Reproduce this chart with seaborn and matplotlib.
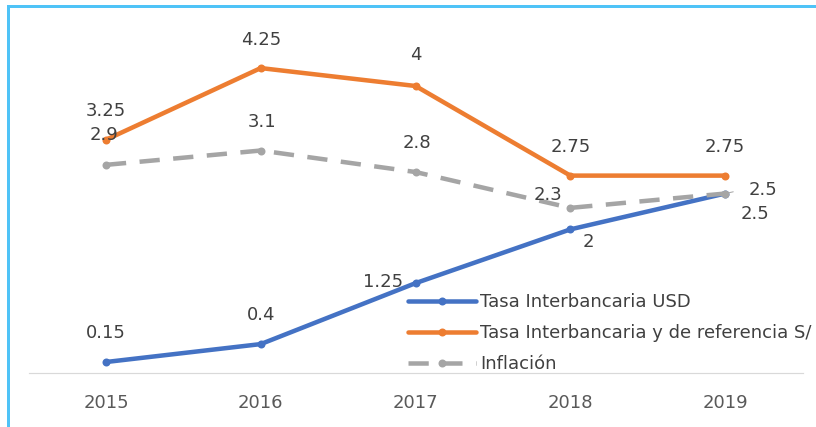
import pandas as pd
import matplotlib.pyplot as plt
import seaborn as sns
from matplotlib.patches import Rectangle

years = ["2015", "2016", "2017", "2018", "2019"]
usd = [0.15, 0.4, 1.25, 2, 2.5]
soles = [3.25, 4.25, 4, 2.75, 2.75]
inflacion = [2.9, 3.1, 2.8, 2.3, 2.5]

names = ["Tasa Interbancaria USD", "Tasa Interbancaria y de referencia S/", "Inflación"]
colors = ["#4472C4", "#ED7D31", "#A5A5A5"]

df = pd.DataFrame({"year": years * 3,
                   "value": usd + soles + inflacion,
                   "serie": [n for n in names for _ in years]})

sns.set_style("white")
plt.rcParams["font.family"] = ["DejaVu Sans"]

fig = plt.figure(figsize=(816 / 72, 427 / 72), dpi=72)
ax = fig.add_axes([0.035, 0.127, 0.9485, 0.8395])

for name, col in zip(names, colors):
    sub = df[df["serie"] == name]
    ls = (0, (4.5, 3)) if name == "Inflación" else "-"
    sns.lineplot(data=sub, x="year", y="value", ax=ax, color=col, linewidth=4.5,
                 linestyle=ls, marker="o", markersize=8, markeredgewidth=0,
                 label=name, sort=False)

ax.set_xlim(-0.5, 4.5)
ax.set_ylim(0, 5)
ax.set_xlabel("")
ax.set_ylabel("")
ax.set_yticks([])
for s in ["top", "left", "right"]:
    ax.spines[s].set_visible(False)
ax.spines["bottom"].set_color("#D9D9D9")
ax.spines["bottom"].set_linewidth(1.2)
ax.tick_params(axis="x", length=0, pad=21, labelsize=18, labelcolor="#595959")

txt = dict(fontsize=18, color="#404040", ha="center", va="center",
           textcoords="offset points")
# offsets (dx, dy) for each label
off_usd = [(0, 29), (0, 29), (-32, 1), (18, -13), (30, -20)]
off_sol = [(0, 29), (0, 28), (0, 31), (0, 29), (0, 29)]
off_inf = [(-2, 30), (1, 29), (1, 29), (-22, 13), (38, 4)]
for vals, offs in [(usd, off_usd), (soles, off_sol), (inflacion, off_inf)]:
    for i, (v, o) in enumerate(zip(vals, offs)):
        ax.annotate(f"{v:g}", (i, v), xytext=o, **txt)
ax.annotate("", (4, inflacion[4]), xytext=(4.065, inflacion[4] + 0.03),
            arrowprops=dict(arrowstyle="-", color="#A5A5A5", lw=1))

leg = ax.legend(loc="center left", bbox_to_anchor=(408 / 816, 1 - 333 / 427),
                bbox_transform=fig.transFigure, frameon=False, fontsize=18,
                borderpad=0, borderaxespad=0, handlelength=3.8,
                handletextpad=0.2, labelspacing=0.72)
for t in leg.get_texts():
    t.set_color("#404040")

fig.patches.append(Rectangle((8 / 816, -0.1), 1.2, (427 - 6) / 427 + 0.1,
                             transform=fig.transFigure, fill=False,
                             edgecolor="#4FC3F7", linewidth=3))

fig.savefig("out.png", dpi=72)
